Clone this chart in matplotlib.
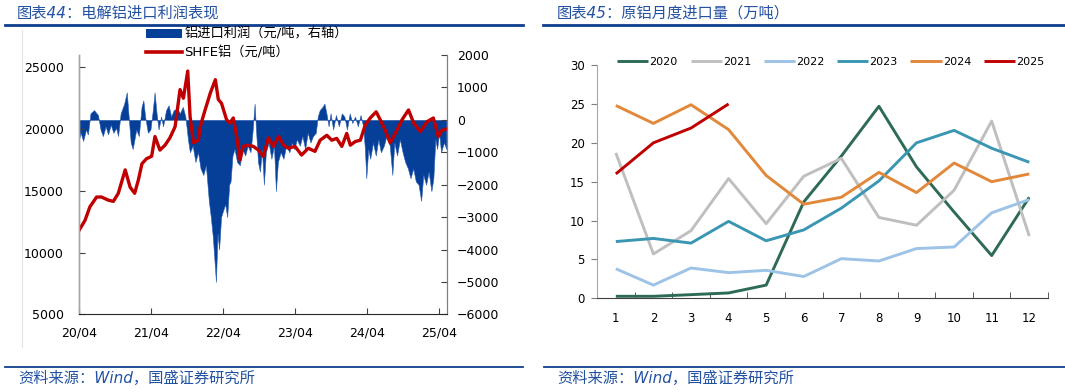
import pandas as pd
import matplotlib.pyplot as plt
import matplotlib.dates as mdates
from matplotlib.patches import Patch
from matplotlib.lines import Line2D

plt.rcParams['font.family'] = ['DejaVu Sans', 'Noto Sans CJK SC']

# ---- left chart data: SHFE aluminium price (CNY/t) ----
shfe_dates = ['2020-04-01', '2020-05-01', '2020-05-26', '2020-06-29', '2020-07-24', '2020-08-27',
              '2020-09-22', '2020-10-17', '2020-11-21', '2020-12-16', '2021-01-08', '2021-01-27',
              '2021-02-14', '2021-03-09', '2021-04-04', '2021-04-21', '2021-05-16', '2021-06-11',
              '2021-07-06', '2021-08-01', '2021-08-26', '2021-09-12', '2021-10-04', '2021-10-16',
              '2021-11-02', '2021-11-27', '2021-12-06', '2022-01-01', '2022-01-26', '2022-02-21',
              '2022-03-08', '2022-03-24', '2022-04-19', '2022-05-06', '2022-05-23', '2022-06-09',
              '2022-06-26', '2022-07-12', '2022-08-07', '2022-09-02', '2022-09-27', '2022-10-22',
              '2022-11-17', '2022-12-12', '2023-01-08', '2023-02-02', '2023-02-27', '2023-04-01',
              '2023-05-04', '2023-06-07', '2023-07-11', '2023-08-06', '2023-09-09', '2023-10-04',
              '2023-10-29', '2023-11-24', '2023-12-19', '2024-01-06', '2024-02-01', '2024-02-26',
              '2024-03-21', '2024-04-16', '2024-05-16', '2024-06-06', '2024-07-01', '2024-07-26',
              '2024-08-21', '2024-09-24', '2024-10-27', '2024-11-22', '2024-12-26', '2025-01-29',
              '2025-03-02', '2025-03-27', '2025-04-14', '2025-05-07']
shfe_price = [11800, 12600, 13700, 14500, 14500, 14250,
              14150, 14800, 16700, 15300, 14800, 15900,
              17200, 17600, 17800, 19400, 18300, 18700,
              19300, 20200, 23200, 22500, 24700, 21000,
              18900, 19100, 20200, 21600, 22900, 24000,
              22400, 22100, 20750, 20500, 20900, 19400,
              17500, 18600, 18700, 18600, 18300, 17800,
              19300, 18600, 19400, 18700, 18450, 18600,
              17900, 18450, 18200, 19100, 19500, 19100,
              19250, 18600, 19650, 18700, 19000, 19100,
              20300, 20900, 21400, 20750, 19900, 18900,
              19650, 20750, 21550, 20500, 19800, 20600,
              20900, 19400, 19900, 20000]

# ---- left chart data: aluminium import profit (CNY/t, right axis) ----
profit_dates = ['2020-04-01', '2020-04-09', '2020-04-22', '2020-05-06', '2020-05-16', '2020-05-29',
                '2020-06-16', '2020-07-06', '2020-07-19', '2020-07-31', '2020-08-14', '2020-08-26',
                '2020-09-09', '2020-09-22', '2020-10-06', '2020-10-16', '2020-10-29', '2020-11-16',
                '2020-11-29', '2020-12-06', '2020-12-19', '2020-12-29', '2021-01-16', '2021-01-29',
                '2021-02-12', '2021-02-21', '2021-03-02', '2021-03-16', '2021-03-29', '2021-04-10',
                '2021-04-19', '2021-04-29', '2021-05-09', '2021-05-22', '2021-06-01', '2021-06-16',
                '2021-06-29', '2021-07-12', '2021-07-25', '2021-08-12', '2021-08-25', '2021-09-09',
                '2021-09-22', '2021-10-05', '2021-10-15', '2021-10-29', '2021-11-12', '2021-11-25',
                '2021-12-08', '2021-12-22', '2022-01-04', '2022-01-19', '2022-01-29', '2022-02-08',
                '2022-02-15', '2022-02-24', '2022-03-04', '2022-03-12', '2022-03-22', '2022-04-01',
                '2022-04-12', '2022-04-22', '2022-05-02', '2022-05-09', '2022-05-19', '2022-05-29',
                '2022-06-11', '2022-06-25', '2022-07-08', '2022-07-22', '2022-08-04', '2022-08-18',
                '2022-08-28', '2022-09-08', '2022-09-15', '2022-09-25', '2022-10-05', '2022-10-15',
                '2022-10-25', '2022-11-04', '2022-11-18', '2022-12-02', '2022-12-15', '2022-12-25',
                '2023-01-04', '2023-01-18', '2023-02-01', '2023-02-15', '2023-03-03', '2023-03-16',
                '2023-03-28', '2023-04-10', '2023-04-25', '2023-05-08', '2023-05-22', '2023-06-04',
                '2023-06-18', '2023-07-01', '2023-07-15', '2023-07-25', '2023-08-04', '2023-08-18',
                '2023-08-28', '2023-09-07', '2023-09-18', '2023-09-28', '2023-10-11', '2023-10-25',
                '2023-11-09', '2023-11-24', '2023-12-07', '2023-12-20', '2024-01-03', '2024-01-16',
                '2024-01-30', '2024-02-13', '2024-02-27', '2024-03-11', '2024-03-20', '2024-03-27',
                '2024-04-06', '2024-04-16', '2024-04-30', '2024-05-14', '2024-05-27', '2024-06-09',
                '2024-06-24', '2024-07-07', '2024-07-24', '2024-08-06', '2024-08-16', '2024-08-30',
                '2024-09-13', '2024-09-27', '2024-10-10', '2024-10-24', '2024-11-06', '2024-11-20',
                '2024-12-03', '2024-12-17', '2024-12-30', '2025-01-10', '2025-01-24', '2025-02-06',
                '2025-02-20', '2025-03-02', '2025-03-12', '2025-03-21', '2025-03-31', '2025-04-10',
                '2025-04-24', '2025-05-07']
profit = [-600, -400, -650, -300, -450, 200,
          300, 150, -300, -500, -200, -450,
          -150, -400, -250, -500, 200, 500,
          850, 300, -700, -900, -300, -500,
          400, 600, 100, -400, -300, 300,
          850, 200, -300, 100, -200, 300,
          450, 100, 300, 350, 200, 400,
          100, -600, -1000, -800, -1300, -1000,
          -1500, -1700, -1400, -2500, -3000, -3600,
          -4200, -5000, -3500, -4000, -3000, -2800,
          -2600, -3000, -2000, -1900, -1100, -900,
          -1300, -1400, -900, -1100, -800, -1000,
          -400, 500, -300, -1300, -1600, -900,
          -2000, -1000, -700, -1200, -800, -2200,
          -1300, -1000, -1200, -800, -1000, -700,
          -900, -600, -800, -500, -900, -400,
          -700, -500, -400, 100, 300, 400,
          500, 200, -200, 200, -300, 150,
          -200, 200, 100, -300, 200, -100,
          100, -200, 150, -200, -900, -1800,
          -900, -1200, -700, -1100, -600, -1000,
          -800, -500, -800, -1700, -700, -1100,
          -600, -1000, -1300, -1500, -1800, -1500,
          -1900, -2000, -2500, -1700, -2000, -1600,
          -2200, -1800, -600, -900, -400, -1000,
          -700, -900]

# ---- right chart data: monthly primary aluminium imports (10k t) ----
months = list(range(1, 13))
imports = {
    '2020': [0.26, 0.26, 0.47, 0.69, 1.7, 12.4, 18.3, 24.7, 16.9, 11.1, 5.5, 13.0],
    '2021': [18.7, 5.7, 8.7, 15.4, 9.6, 15.7, 18.0, 10.4, 9.4, 13.9, 22.8, 8.0],
    '2022': [3.8, 1.7, 3.9, 3.3, 3.6, 2.8, 5.1, 4.8, 6.4, 6.6, 11.0, 12.7],
    '2023': [7.3, 7.7, 7.1, 9.9, 7.4, 8.8, 11.6, 15.1, 20.0, 21.6, 19.3, 17.5],
    '2024': [24.8, 22.5, 24.9, 21.7, 15.8, 12.1, 13.0, 16.2, 13.6, 17.4, 15.0, 16.0],
    '2025': [16.0, 20.0, 21.9, 25.0],
}
year_colors = {'2020': '#2E6B57', '2021': '#BFBFBF', '2022': '#9DC3E6',
               '2023': '#3A96B2', '2024': '#E2883A', '2025': '#C00000'}

title_blue = '#2352A3'
line_blue = '#0E3F8F'

fig = plt.figure(figsize=(10.65, 3.92), dpi=100)

# ================= left chart =================
ax = fig.add_axes([0.0742, 0.198, 0.3455, 0.6617])
ax2 = ax.twinx()
ax.set_zorder(ax2.get_zorder() + 1)
ax.patch.set_visible(False)

pdates = pd.to_datetime(profit_dates)
ax2.fill_between(pdates, profit, 0, color='#063F98', lw=0.4, edgecolor='#2A5DB0')
ax2.set_ylim(-6000, 2000)
ax2.set_yticks(range(-6000, 2001, 1000))

ax.plot(pd.to_datetime(shfe_dates), shfe_price, color='#C00000', lw=2.4)
ax.set_ylim(5000, 26000)
ax.set_yticks(range(5000, 25001, 5000))
ax.set_xlim(pd.Timestamp('2020-04-01'), pd.Timestamp('2025-05-10'))
ax.set_xticks(pd.to_datetime(['2020-04-01', '2021-04-01', '2022-04-01',
                              '2023-04-01', '2024-04-01', '2025-04-01']))
ax.xaxis.set_major_formatter(mdates.DateFormatter('%y/%m'))

ax.tick_params(axis='y', direction='in', length=4, pad=11, labelsize=9, color='#404040')
ax.tick_params(axis='x', direction='in', length=4, pad=9, labelsize=9, color='#404040')
ax2.tick_params(axis='y', direction='in', length=4, pad=7, labelsize=9, color='#404040')
for a in (ax, ax2):
    a.spines['top'].set_visible(False)
    a.spines['left'].set_color('#A6A6A6')
    a.spines['right'].set_color('#7F7F7F')
    a.spines['bottom'].set_color('#262626')
    a.spines['left'].set_linewidth(1.0)
    a.spines['right'].set_linewidth(0.8)
ax2.spines['bottom'].set_visible(False)

handles = [Patch(facecolor='#063F98', edgecolor='none'),
           Line2D([], [], color='#C00000', lw=2.6)]
fig.legend(handles, ['铝进口利润（元/吨，右轴）', 'SHFE铝（元/吨）'],
           loc='upper left', bbox_to_anchor=(0.137, 0.929), frameon=False,
           fontsize=9.5, handlelength=2.7, handletextpad=0.2, labelspacing=0.42,
           borderpad=0, borderaxespad=0)

# ================= right chart =================
bx = fig.add_axes([0.5606, 0.239, 0.4235, 0.595])
for yr, vals in imports.items():
    bx.plot(months[:len(vals)], vals, color=year_colors[yr], lw=2.1, label=yr,
            solid_capstyle='butt')
bx.set_xlim(0.5, 12.5)
bx.set_ylim(0, 30)
bx.set_yticks(range(0, 31, 5))
bx.set_xticks(months)
bx.set_xticks([m + 0.5 for m in months], minor=True)
bx.tick_params(axis='x', which='major', length=0, pad=10, labelsize=8.5)
bx.tick_params(axis='x', which='minor', direction='in', length=4, color='#404040')
bx.tick_params(axis='y', direction='out', length=4, pad=5, labelsize=8.5, color='#7F7F7F')
bx.spines['top'].set_visible(False)
bx.spines['right'].set_visible(False)
bx.spines['left'].set_color('#A6A6A6')
bx.spines['bottom'].set_color('#404040')
bx.legend(loc='upper left', bbox_to_anchor=(0.045, 1.033), ncol=6, frameon=False,
          fontsize=8, handlelength=2.8, handletextpad=0.1, columnspacing=1.15,
          borderpad=0, borderaxespad=0)

# ================= titles, rules, sources =================
fig.text(17 / 1065, 1 - 13.5 / 392, '图表44：电解铝进口利润表现', color=title_blue,
         fontsize=11, style='italic', va='center', ha='left')
fig.text(557 / 1065, 1 - 13.5 / 392, '图表45：原铝月度进口量（万吨）', color=title_blue,
         fontsize=11, style='italic', va='center', ha='left')
fig.add_artist(Line2D([5 / 1065, 523 / 1065], [1 - 25 / 392] * 2, color=line_blue, lw=2.0))
fig.add_artist(Line2D([543 / 1065, 1.0], [1 - 25 / 392] * 2, color=line_blue, lw=2.0))
fig.add_artist(Line2D([5 / 1065, 523 / 1065], [1 - 366.7 / 392] * 2, color=line_blue, lw=1.3))
fig.add_artist(Line2D([544 / 1065, 1.0], [1 - 366.7 / 392] * 2, color=line_blue, lw=1.3))
fig.add_artist(Line2D([22 / 1065] * 2, [1 - 30 / 392, 1 - 347 / 392], color='#E3E3E3', lw=0.8))
fig.text(18 / 1065, 1 - 378.5 / 392, '资料来源：Wind，国盛证券研究所', color=title_blue,
         fontsize=11, style='italic', va='center', ha='left')
fig.text(557 / 1065, 1 - 378.5 / 392, '资料来源：Wind，国盛证券研究所', color=title_blue,
         fontsize=11, style='italic', va='center', ha='left')

fig.savefig('out.png', dpi=100)
